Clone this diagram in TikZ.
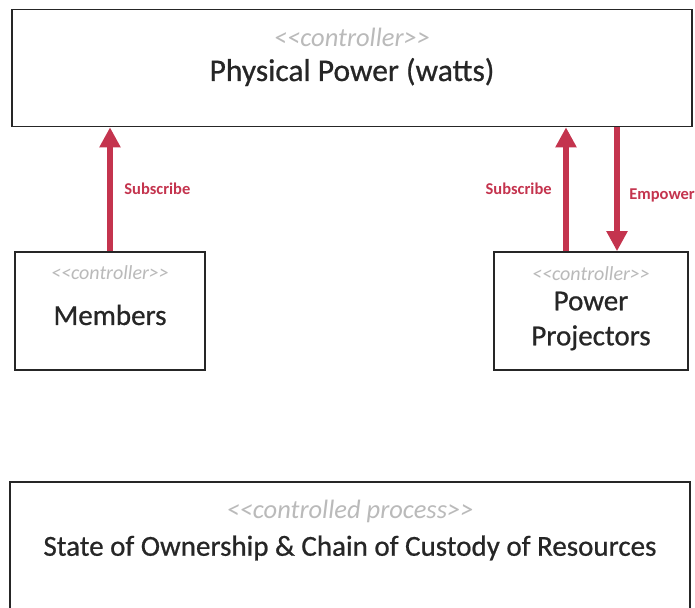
\documentclass[tikz,border=0pt]{standalone}
\usepackage{fontspec}
\setmainfont{Carlito}
\newfontfamily\semibold[FakeBold=0.7]{Carlito}
\usetikzlibrary{arrows.meta}
\definecolor{flowred}{RGB}{196,52,78}
\definecolor{stergray}{RGB}{186,186,186}
\begin{document}
\begin{tikzpicture}[x=1pt,y=-1pt,
    box/.style={draw=black!85,line width=1.6pt,fill=white},
    ster/.style={text=stergray,font=\fontsize{26.5}{30}\selectfont\itshape},
    smallster/.style={text=stergray,font=\fontsize{20}{24}\selectfont\itshape},
    title/.style={text=black!85,font=\semibold\fontsize{29}{35}\selectfont,align=center},
    flow/.style={draw=flowred,line width=6pt,-{Triangle[length=20pt,width=20pt]}},
    lbl/.style={text=flowred,font=\fontsize{16.5}{19}\selectfont\bfseries}]
  \clip (0,0) rectangle (695,607);
  \node[box,minimum width=680pt,minimum height=117pt] (phys) at (352,68) {};
  \node[box,minimum width=190pt,minimum height=118pt] (mem) at (110,311) {};
  \node[box,minimum width=194pt,minimum height=118pt] (pp) at (591,311) {};
  \node[box,minimum width=680pt,minimum height=150pt] (proc) at (350,557) {};
  % texts inside the boxes
  \node[ster] (physst) at (352,37) {{<}{<}controller{>}{>}};
  \node[title,font=\semibold\fontsize{31.5}{36}\selectfont] (physname) at (352,72) {Physical Power (watts)};
  \node[smallster] (memst) at (110,273) {{<}{<}controller{>}{>}};
  \node[title] (memname) at (110,315) {Members};
  \node[smallster] (ppst) at (591,274) {{<}{<}controller{>}{>}};
  \node[title] (ppname) at (591,321) {Power\\Projectors};
  \node[ster] (procst) at (350,511) {{<}{<}controlled process{>}{>}};
  \node[title] (procname) at (350,548) {State of Ownership \& Chain of Custody of Resources};
  % connectors
  \path
  (mem.north) edge[flow] node[lbl,right=8pt] {Subscribe} (mem.north |- phys.south)
  ([xshift=-25pt]pp.north) edge[flow] node[lbl,left=8pt] {Subscribe} ([xshift=-25pt]pp.north |- phys.south)
  ([xshift=26pt]pp.north |- phys.south) edge[flow] node[lbl,right=6pt,yshift=-6pt] {Empower} ([xshift=26pt]pp.north);
\end{tikzpicture}
\end{document}
